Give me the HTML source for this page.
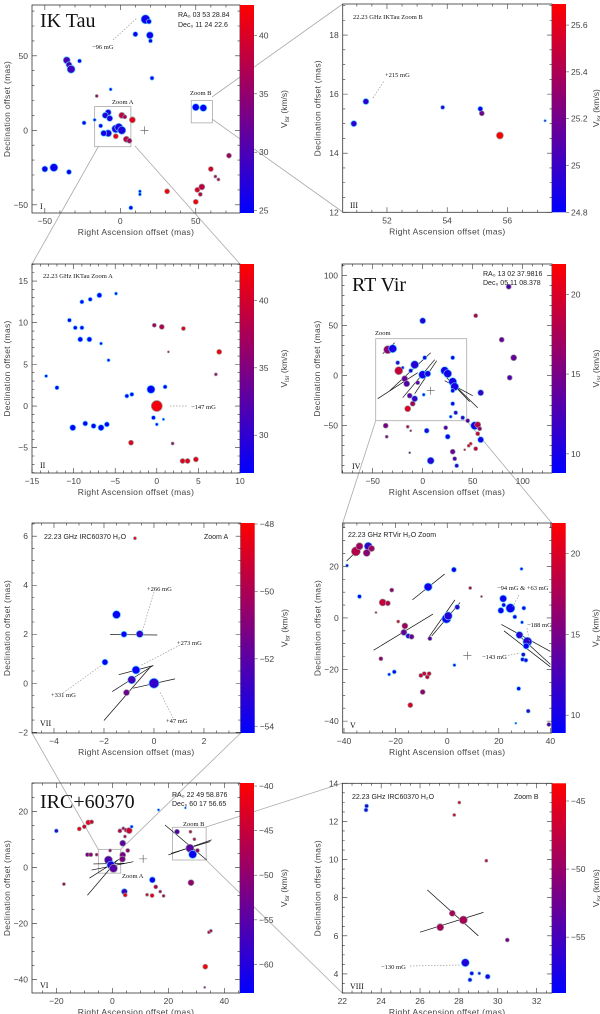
<!DOCTYPE html>
<html><head><meta charset="utf-8"><style>
html,body{margin:0;padding:0;background:#fff}
svg{display:block;font-family:"Liberation Sans",sans-serif}
</style></head><body>
<svg id="fig" width="600" height="1014" viewBox="0 0 600 1014" xmlns="http://www.w3.org/2000/svg">
<defs>
<linearGradient id="cmap" x1="0" y1="1" x2="0" y2="0">
<stop offset="0" stop-color="#0000ff"/><stop offset="0.5" stop-color="#800080"/><stop offset="1" stop-color="#ff0000"/>
</linearGradient>
</defs>
<g id="connectors" stroke="#aaa" stroke-width="0.8" fill="none">
<line x1="98.7" y1="146" x2="32" y2="264"/><line x1="135" y1="146" x2="240" y2="264"/>
<line x1="212" y1="97" x2="342.7" y2="4"/><line x1="212" y1="119" x2="342.7" y2="212"/>
<line x1="375.7" y1="420.7" x2="342.7" y2="523"/><line x1="466.7" y1="420.7" x2="551.7" y2="523"/>
<line x1="98.3" y1="849.4" x2="32" y2="733"/><line x1="120.7" y1="849.4" x2="240.7" y2="733"/>
<line x1="206" y1="827" x2="342.3" y2="783.3"/><line x1="206" y1="860" x2="342.3" y2="993"/>
</g>
</svg>
<script>
// ---------- data (x mas, y mas, radius px, Vlsr km/s) ----------
const ikTauPoints=[[16.7,74.5,4.5,26],[19,73,2.5,26],[10,64.5,2.5,26],[19.6,63.8,3.5,26],[20,60,2,26],[-35.5,47,3.5,30],[-34,44,3,30],[-32.6,41,4,29],[-27,46.5,2,26],[21,35,2,26],[-6.4,27.5,1.5,26],[-15.6,23,1.5,36],
[-24,5,2,26],[-17,7,1.5,26],[-13,3,2,26],[-8,12,3,27],[-10,10,3,27],[-7,8,3,27],[-8,-2,3.5,27],[-11,-2,3,26],[-3,1,4,27],[-1,2,4,27],[1,0,4,27],[1,10,3,38],[3,9,2,36],[8,7,3,41],[-3,-4,2.5,41],[4,-6,3,38],[6,-7,2.5,36],
[50,15.5,3.5,25],[55,15,3.5,25],[-50,-26,3,26],[-44,-25,4,26],[-34,-28,2.5,26],[13,-41,1.5,26],[13,-43,1.5,26],[7,-52,2,26],
[31,-41,2.5,42],[50,-48,2.5,42],[51,-40,2.5,40],[54,-38,3,38],[53,-43,2,38],[60,-26,2.5,40],[63,-31,1.5,36],[65,-33,1.5,36],[72,-17,2.5,36]];
const ikTauZoomAPoints=[[-13.3,3.6,1.5,27],[-12,2.2,2,27],[-10.5,10.3,2,27],[-9.8,9.4,2,27],[-9,9.4,2,27],[-9.2,8,2.5,27],[-8.1,8,2.5,27],[-6.7,7.5,1.5,27],[-5.8,5.5,1.5,27],[-9,12.5,2,27],[-8,12.8,2,27],[-6.9,13.3,2.5,27],[-4.9,13.5,1.5,27],
[-0.7,2,4,27],[1,2.3,2,27],[-3.6,1.2,2,27],[-3,1.4,2,27],[-0.4,-1.4,2,27],[0.8,-1.6,1.2,27],[0,-2.2,1.5,27],[-10.1,-2.6,3,27],[-8.6,-2.1,2.5,27],[-7.6,-2.4,2.5,27],[-6.7,-2.6,3,27],[-6,-2.2,2.5,27],
[0,0,5.5,42],[-3.1,-4.4,2.5,41],[1.9,-4.5,1.5,36],[3.1,-6.6,2.5,41],[3.7,-6.6,2.5,41],[4.7,-6.4,2.5,41],[-0.3,9.7,2,37],[0.6,9.5,2.5,38],[3.2,9.3,2,41],[1.4,6.5,1,39],[7.5,6.5,2.5,42],[7.1,3.8,1.5,37]];
const ikTauZoomBPoints=[[50.9,15,3,24.95],[51.3,15.75,3,24.95],[53.85,15.55,2,25],[55.1,15.5,2.5,24.85],[55.15,15.35,2.5,25.2],[55.75,14.6,3.5,25.7],[57.25,15.1,1.2,25]];
const rtVirPoints=[[86,89,2.5,13],[0,55,3,11],[53,60,2,18],[79,36,2.5,14],[91,18,3,14],[87,-2,2.5,13],[58,-17,3,12],
[-35,26,4,16],[-30,27,4,10],[-25,13,2,12],[-20,8,1.5,11],[-24,5,4,19],[-18,-3,3,14],[-16,-8,3,13],[-8,11,4,11],[-12,5,2,11],[2,18,2,10],[0,1,4,10],[5,2,3,10],[-5,-7,2,13],[-13,-20,2.5,13],[-8,-23,3,12],[-10,-28,2.5,17],[-15,-33,3,20],[1,-19,1.5,10],
[22,5,4,10],[25,2,4,10],[30,-6,4,10],[32,-11,4,10],[30,-15,2,10],[30,18,2,10],[30,-28,2,10],[33,-37,2,12],[28,-41,1.5,10],[40,-42,2,12],[45,-45,2,13],[52,-50,4,10],[55,-49,3,18],[57,-53,2,16],[55,-58,2,19],[58,-64,3,10],[48,-68,1.5,20],[46,-70,1.5,19],[42,-74,1,19],[53,-73,2,19],[30,-76,2.5,14],[32,-83,2,13],[34,-90,2,12],[8,-85,3.5,11],[-13,-77,1,13],[-15,-51,1.5,18],[-12,-55,1,16],[-37,-50,2.5,15],[-36,-61,1.5,15],[4,-55,2.5,11],[23,-52,2,13],[25,-61,2.5,10]];
const rtVirZoomPoints=[[-35.4,25.8,4.5,18],[-34,27.8,3.5,17],[-30.6,27.8,4,12],[-31.2,25.2,3.5,16],[-29.3,26.9,3,17],[-38.8,20.3,1.5,12],[-34,8.3,2,9.5],[-21.5,10.8,2,16],[-25,6,3.5,19],[-23,5.7,2.5,18],[-27.6,2.1,1,17],[-19,-1.4,1.5,20],[-16.4,-3.1,3,17],[-16.8,-5.6,3,14],[-15.1,-7,2.5,12],[-13.8,-7.3,2.5,14],[-7.4,12,4,10],[2.6,18.7,2.5,10],[-0.3,-0.3,4.5,10],[0.4,0.8,4,11],[3.9,4.2,2.5,12],[-6.7,-8,2,13],[8.9,11.6,1.5,18],[13.3,8.3,1,16],[-25.7,-15.8,2,16],[-20.5,-20.9,2,10],[-22.5,-21.9,1.5,10],[-9.5,-28.7,2.5,16],[-10.2,-22.3,2,19],[-7.7,-22.9,2,19],[-8.9,-21.6,2,19],[-7,-21.6,2,19],[-14.3,-33.8,2.5,20],[2.8,-18.3,1.5,10],
[21.7,7.5,3.5,9.5],[21.9,5,2,9.5],[20.8,2.9,3,9.5],[24.5,3.8,4.5,9.5],[26.2,0.4,2,9.5],[29.7,3.8,2,9.5],[29,-1.7,1.5,9.5],[28.8,19,1.5,9.5],[28,-6.6,3.5,11],[31.1,-9.2,4.5,11],[30.6,-10.9,3,9.5],[29.5,-14.2,2,11],[29.2,-16.1,2,11],[30.5,-16.4,2,10],[27.7,-27.4,2,9.5],[31.4,-36.1,2,12],[26.6,-40.8,1,9.5],[39.4,-41.3,2,13]];
const ircZoomAPoints=[[-0.76,5.92,1.5,-48.5],[-1.5,2.8,4,-54],[-1.2,2,3,-54],[-0.57,2.01,3.5,-53],[-1.96,0.86,3,-54],[-0.72,0.54,4,-54],[-0.89,0.14,4,-52.5],[0,0,5,-53],[-1.1,-0.38,3,-51.5]];
const ircPoints=[[-20,13,2,-57],[-17.3,-6,1.5,-48],[-11.8,13.7,2,-42],[-10,14.5,2,-44],[-8.6,16,2.5,-42],[-7.4,16.2,2,-44],[-8.9,4.5,2,-52],[-7.7,4.5,2,-50],[-5.6,4.5,1.5,-48],[-0.8,6,1.5,-50],[-1.4,2.6,4,-56],[-0.5,0.8,4,-60],[0.4,-0.4,4,-55],[3.7,4.4,3,-52],[3.7,8.6,3,-55],[2.7,13,2,-46],[3.9,13.9,1.5,-50],[4.9,13.3,2,-46],[6,13.1,3,-44],[6.9,14.5,1.5,-62],[4.5,11,1.5,-48],[5.5,6,2,-50],[3.6,2.9,3,-52],[4.3,-8.7,3,-57],[4.6,-9.9,2,-42],
[14.3,-4.5,3,-62],[15.5,-7,2,-46],[12.4,-9.8,1.5,-44],[14.2,-10.1,2,-42],[17.1,-8.7,1.5,-48],[18.3,-10.2,1.5,-48],[16.5,20.5,1.2,-62],[26.1,21.2,1,-62],[23.1,12.7,2.5,-56],[27.9,12.7,1.5,-46],[29.3,10,1.5,-46],[27.7,6.8,4,-55],[28.7,4.6,4,-62],[30.4,6,2,-50],[28.1,-5.5,3,-50],[34.5,-23.2,1.5,-46],[35.2,-22.7,1.5,-48],[33.2,-35.5,2.5,-40],[33,-42.9,1,-52]];
const ircZoomBPoints=[[23.25,12.81,2,-56],[23.22,12.6,2,-56],[28.02,12.99,1.5,-46],[27.76,12.34,1.5,-46],[29.41,9.94,1.5,-47],[27.66,7.18,3,-49],[28.23,6.83,4,-49],[27.04,6.45,3.5,-49],[30.49,5.78,2,-52],[28.33,4.59,4,-57],[28.66,4.03,2,-57],[29.05,4.03,1.5,-57],[29.48,3.86,2.5,-57],[28.57,3.69,2,-57]];
// polarization vectors [x1,y1,x2,y2] in data units
const rtVirVectors=[[-40,22,-28,33],[-45,-23,-5,3],[-33,-15,8,23],[-20,-22,12,16],[-8,-18,14,15],[22,-5,50,-20],[24,-2,55,-32],[26,-4,47,-26]];
const rtVirZoomVectors=[[-39,22,-33,28],[-13.5,7,-1,17],[-28.5,-12.5,-5.5,1.5],[-7.5,-8,3,7],[-6,-7,5,6],[21,-2.5,40,-13],[22,-5,40,-19],[28,-7,40,-18]];
const ircZoomAVectors=[[-2,-1.52,-0.13,0.68],[-1.67,-0.34,-0.03,0.73],[-1.41,0.35,-0.03,0.72],[-0.83,-0.2,0.84,0.18],[-1.75,1.99,0.13,1.97]];
const ircVectors=[[-8.9,-10,1.8,2.6],[-8.2,-3.9,3.9,3.8],[-7.4,-1,7.5,2],[-6.8,1.2,4.5,1.4],[18.8,15.1,33.7,2.6],[20,4.4,35.5,9.8],[21,5,35,9.2]];
const ircZoomBVectors=[[26.37,8.41,29,6],[26,6.19,29.26,7.23]];

const NS='http://www.w3.org/2000/svg';
const svg=document.getElementById('fig');
function mk(tag,attrs,name,parent){
  const el=document.createElementNS(NS,tag);
  for(const k in attrs) el.setAttribute(k,attrs[k]);
  
  
  (parent||svg).appendChild(el);
  return el;
}
function txt(s,x,y,size,name,parent,opts){
  const a=Object.assign({x:x,y:y,'font-size':size,fill:'#222'},opts||{});
  const t=mk('text',a,name,parent); t.textContent=s; return t;
}
function col(t){t=Math.max(0,Math.min(1,t));return 'rgb('+Math.round(255*t)+',0,'+Math.round(255*(1-t))+')';}
let pid=0;
function panel(cfg,points,vectors){
  pid++;
  const g=mk('g',{},cfg.name);
  const [x0,x1,y0,y1]=cfg.px;
  const sx=v=>x0+(v-cfg.x[0])/(cfg.x[1]-cfg.x[0])*(x1-x0);
  const sy=v=>y1-(v-cfg.y[0])/(cfg.y[1]-cfg.y[0])*(y1-y0);
  const cp=mk('clipPath',{id:'cp'+pid},'clip',g);
  mk('rect',{x:x0,y:y0,width:x1-x0,height:y1-y0},'clip-rect',cp);
  const plot=mk('g',{'clip-path':'url(#cp'+pid+')'},'plot-area',g);
  (cfg.boxes||[]).forEach(b=>{
    mk('rect',{x:sx(b[0]),y:sy(b[1]),width:sx(b[2])-sx(b[0]),height:sy(b[3])-sy(b[1]),fill:'none',stroke:'#aaa','stroke-width':0.8},'zoom-box',plot);
  });
  (vectors||[]).forEach(v=>{
    mk('line',{x1:sx(v[0]),y1:sy(v[1]),x2:sx(v[2]),y2:sy(v[3]),stroke:'#111','stroke-width':0.7},'polarization-vector',plot);
  });
  points.forEach(p=>{
    const t=(p[3]-cfg.c[0])/(cfg.c[1]-cfg.c[0]);
    mk('circle',{cx:sx(p[0]),cy:sy(p[1]),r:p[2],fill:col(t),stroke:t<0.3?'#5cf':'#999','stroke-width':0.7},'maser-spot',plot);
  });
  if(cfg.cross){const cx=sx(cfg.cross[0]),cy=sy(cfg.cross[1]);
    mk('path',{d:`M${cx-4},${cy}H${cx+4}M${cx},${cy-4}V${cy+4}`,stroke:'#555','stroke-width':0.6},'stellar-position-cross',plot);}
  mk('rect',{x:x0,y:y0,width:x1-x0,height:y1-y0,fill:'none',stroke:'#333','stroke-width':0.8},'plot-frame',g);
  let d='';
  const eps=1e-6;
  for(let v=Math.ceil(cfg.x[0]/cfg.xm-eps)*cfg.xm; v<=cfg.x[1]+eps; v+=cfg.xm){
    const X=sx(v); const maj=cfg.xt.some(m=>Math.abs(m-v)<eps); const L=maj?5:2.5;
    d+=`M${X},${y1}v${-L}M${X},${y0}v${L}`;
  }
  for(let v=Math.ceil(cfg.y[0]/cfg.ym-eps)*cfg.ym; v<=cfg.y[1]+eps; v+=cfg.ym){
    const Y=sy(v); const maj=cfg.yt.some(m=>Math.abs(m-v)<eps); const L=maj?5:2.5;
    d+=`M${x0},${Y}h${L}M${x1},${Y}h${-L}`;
  }
  mk('path',{d:d,stroke:'#333','stroke-width':0.6,fill:'none'},'axis-ticks',g);
  cfg.xt.forEach(v=>txt(String(v).replace('-','\u2212'),sx(v),y1+11,8.5,'x-tick-label',g,{'text-anchor':'middle',fill:'#444'}));
  cfg.yt.forEach(v=>txt(String(v).replace('-','\u2212'),x0-4,sy(v)+3,8.5,'y-tick-label',g,{'text-anchor':'end',fill:'#444'}));
  txt('Right Ascension offset (mas)',(x0+x1)/2,y1+22,8.5,'x-axis-title',g,{'text-anchor':'middle',fill:'#444','letter-spacing':'0.3'});
  const yc=(y0+y1)/2, xl=x0-22;
  txt('Declination offset (mas)',xl,yc,8.5,'y-axis-title',g,{'text-anchor':'middle',fill:'#444',transform:`rotate(-90 ${xl} ${yc})`,'letter-spacing':'0.3'});
  const cw=cfg.cw||14;
  mk('rect',{x:x1,y:y0,width:cw,height:y1-y0,fill:'url(#cmap)'},'colorbar',g);
  const cy=v=>y1-(v-cfg.c[0])/(cfg.c[1]-cfg.c[0])*(y1-y0);
  cfg.ct.forEach(v=>{
    mk('line',{x1:x1+cw,y1:cy(v),x2:x1+cw+3,y2:cy(v),stroke:'#555','stroke-width':0.6},'colorbar-tick',g);
    txt(String(v).replace('-','\u2212'),x1+cw+5,cy(v)+3,8.5,'colorbar-tick-label',g,{fill:'#444'});
  });
  const lx=x1+cw+33;
  const lt=txt('V',lx,yc,8.5,'colorbar-title',g,{'text-anchor':'middle',fill:'#444',transform:`rotate(-90 ${lx} ${yc})`});
  const s1=document.createElementNS(NS,'tspan'); s1.setAttribute('font-size','6'); s1.setAttribute('dy','2'); s1.textContent='lsr'; lt.appendChild(s1);
  const s2=document.createElementNS(NS,'tspan'); s2.setAttribute('dy','-2'); s2.textContent=' (km/s)'; lt.appendChild(s2);
  (cfg.labels||[]).forEach(l=>txt(l[0],l[1],l[2],l[3],l[4],g,l[5]));
  (cfg.dots||[]).forEach(l=>mk('line',{x1:l[0],y1:l[1],x2:l[2],y2:l[3],stroke:'#999','stroke-width':0.7,'stroke-dasharray':'1.5,1.5'},'annotation-leader',g));
  return g;
}
const serif={'font-family':'Liberation Serif, serif',fill:'#111'};
panel({name:'panel-ik-tau',px:[32,240,5,213],x:[-58.5,79.3],y:[-55.5,84.1],xt:[-50,0,50],xm:10,yt:[-50,0,50],ym:10,c:[24.8,42.6],ct:[25,30,35,40],cross:[16,0],
  boxes:[[-17,16,7,-11],[47,20,61,5]],
  labels:[['IK Tau',40,27,20,'panel-title',serif],['RA\u2080 03 53 28.84',178,17,7,'ra-label'],['Dec\u2080 11 24 22.6',178,27,7,'dec-label'],['\u221296 mG',92,49,6.5,'field-label',serif],['Zoom A',112,104,6.5,'zoom-a-label',serif],['Zoom B',190,95,6.5,'zoom-b-label',serif],['I',40,209,8,'panel-number',serif]],
  dots:[[113,40,137,18]]},ikTauPoints,[]);
panel({name:'panel-ik-tau-zoom-a',px:[32,240,264,473],x:[-15,10],y:[-8.04,17.05],xt:[-15,-10,-5,0,5,10],xm:1,yt:[-5,0,5,10,15],ym:1,c:[27.2,42.7],ct:[30,35,40],
  labels:[['22.23 GHz IKTau Zoom A',43,278,6.5,'panel-subtitle',serif],['\u2212147 mG',191,409,6.5,'field-label',serif],['II',40,468,8,'panel-number',serif]],
  dots:[[170,406,188,406]]},ikTauZoomAPoints,[]);
panel({name:'panel-ik-tau-zoom-b',px:[342.7,552,4,212.3],x:[50.53,57.48],y:[12,19.05],xt:[52,54,56],xm:0.5,yt:[12,14,16,18],ym:0.5,c:[24.8,25.69],ct:[24.8,25,25.2,25.4,25.6],
  labels:[['22.23 GHz IKTau Zoom B',353,19,6.5,'panel-subtitle',serif],['+215 mG',385,77,6.5,'field-label',serif],['III',350,208,8,'panel-number',serif]],
  dots:[[373,98,384,81]]},ikTauZoomBPoints,[]);
panel({name:'panel-rt-vir',px:[342,552,264,473],x:[-80.7,129.3],y:[-97.3,111.7],xt:[-50,0,50,100],xm:10,yt:[-50,0,50,100],ym:10,c:[8.8,21.9],ct:[10,15,20],cross:[8,-15],
  boxes:[[-47,37,44,-45]],
  labels:[['RT Vir',352,291,20,'panel-title',serif],['RA\u2080 13 02 37.9816',483,276,7,'ra-label'],['Dec\u2080 05 11 08.378',483,285,7,'dec-label'],['Zoom',375,335,6.5,'zoom-label',serif],['IV',352,469,8,'panel-number',serif]]},rtVirPoints,rtVirVectors);
panel({name:'panel-irc-zoom-a',px:[32,240.7,523,733],x:[-4.88,3.47],y:[-2.03,6.54],xt:[-4,-2,0,2],xm:0.5,yt:[-2,0,2,4,6],ym:0.5,c:[-54.2,-47.97],ct:[-54,-52,-50,-48],
  labels:[['22.23 GHz IRC60370 H\u2082O',44,539,7,'panel-subtitle'],['Zoom A',204,539,7,'zoom-label'],['+266 mG',147,591,6.5,'field-label',serif],['+273 mG',177,645,6.5,'field-label',serif],['+331 mG',51,697,6.5,'field-label',serif],['+47 mG',166,723,6.5,'field-label',serif],['VII',40,726,8,'panel-number',serif]],
  dots:[[154,592,142,632],[180,645,140,666],[63,693,102,665],[173,718,160,692]]},ircZoomAPoints,ircZoomAVectors);
panel({name:'panel-rt-vir-zoom',px:[342.7,551.7,523,733],x:[-40.5,40.5],y:[-44.6,36.8],xt:[-40,-20,0,20,40],xm:5,yt:[-40,-20,0,20],ym:5,c:[8.9,21.9],ct:[10,15,20],cross:[7.8,-14.6],
  labels:[['22.23 GHz RTVir H\u2082O Zoom',348,537,7,'panel-subtitle'],['\u221294 mG & +63 mG',497,590,6.5,'field-label',serif],['\u2212188 mG',527,627,6.5,'field-label',serif],['\u2212143 mG',482,659,6.5,'field-label',serif],['V',350,728,8,'panel-number',serif]],
  dots:[[519,595,512,608],[527,628,530,645],[505,656,520,653]]},rtVirZoomPoints,rtVirZoomVectors);
panel({name:'panel-irc-60370',px:[32,240,783,993],x:[-28.7,45.6],y:[-44.9,30.1],xt:[-20,0,20,40],xm:5,yt:[-40,-20,0,20],ym:5,c:[-63.2,-39.66],ct:[-60,-55,-50,-45,-40],cross:[11,3],
  boxes:[[-5,6.4,3,-2.1],[21.5,14.3,33.5,2.6]],
  labels:[['IRC+60370',40,808,20,'panel-title',serif],['RA\u2080 22 49 58.876',172,797,7,'ra-label'],['Dec\u2080 60 17 56.65',172,806,7,'dec-label'],['Zoom A',122,878,6.5,'zoom-a-label',serif],['Zoom B',183,826,6.5,'zoom-b-label',serif],['VI',40,988,8,'panel-number',serif]]},ircPoints,ircVectors);
panel({name:'panel-irc-zoom-b',px:[342.3,552,783.3,993],x:[22,32.79],y:[3.0,14],xt:[22,24,26,28,30,32],xm:0.5,yt:[4,6,8,10,12,14],ym:0.5,c:[-59.1,-43.7],ct:[-55,-50,-45],
  labels:[['22.23 GHz IRC60370 H\u2082O',352,799,7,'panel-subtitle'],['Zoom B',514,799,7,'zoom-label'],['\u2212130 mG',381,969,6.5,'field-label',serif],['VIII',350,989,8,'panel-number',serif]],
  dots:[[410,966,460,965]]},ircZoomBPoints,ircZoomBVectors);
</script>
</body></html>
